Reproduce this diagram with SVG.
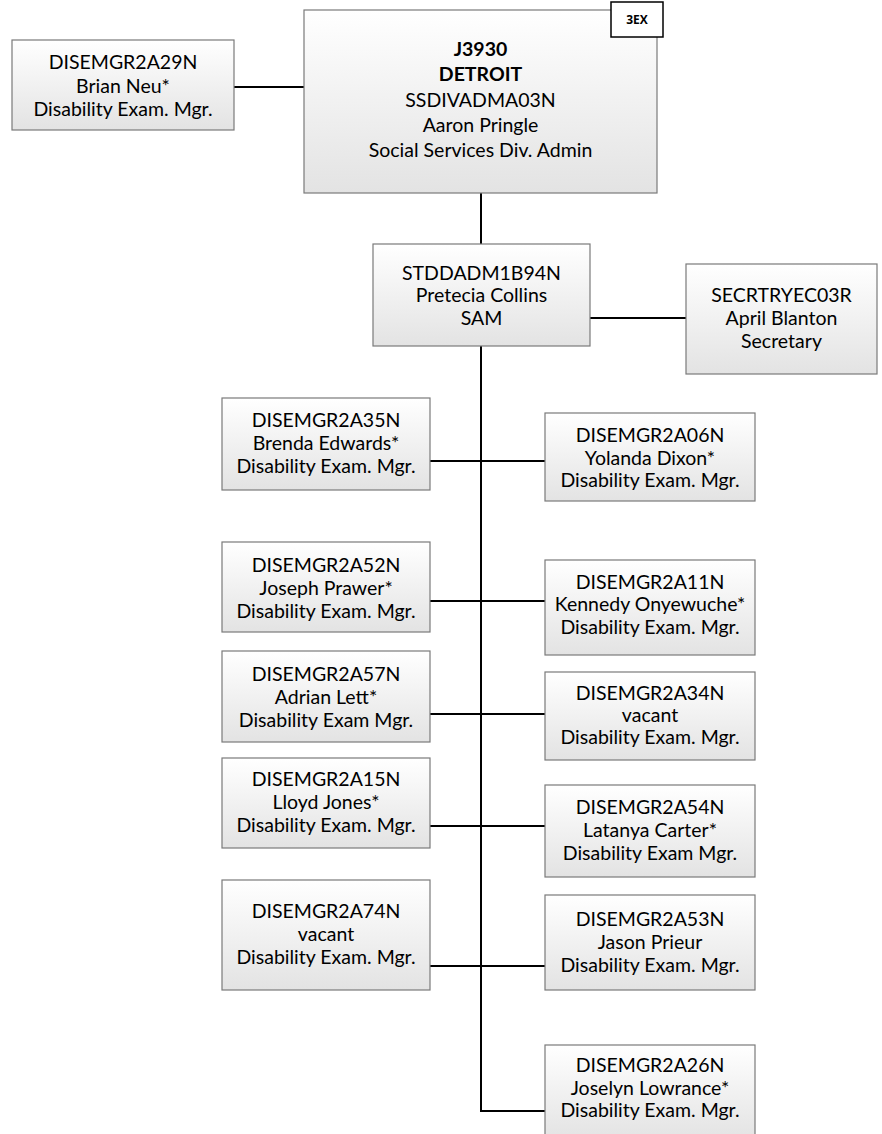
<svg xmlns="http://www.w3.org/2000/svg" width="882" height="1134" viewBox="0 0 882 1134">
<defs>
<linearGradient id="g" x1="0" y1="0" x2="0" y2="1">
<stop offset="0" stop-color="#ffffff"/>
<stop offset="1" stop-color="#e3e3e3"/>
</linearGradient>
<style>
.box{fill:url(#g);stroke:#7a7a7a;stroke-width:1.2}
.t{font-family:Lato,"Open Sans",sans-serif;font-size:19.5px;fill:#000;text-anchor:middle}
.b{font-weight:bold}
.c{stroke:#000;stroke-width:2;fill:none}
.tag{fill:#fff;stroke:#000;stroke-width:1.5}
.tt{font-family:"Open Sans",sans-serif;font-size:12px;font-weight:bold;text-anchor:middle}
</style>
</defs>
<rect width="882" height="1134" fill="#fff"/>
<g id="connectors">
<path class="c" d="M234 87H304"/>
<path class="c" d="M481 193V244"/>
<path class="c" d="M590 318H686"/>
<path class="c" d="M481 346V1111H545"/>
<path class="c" d="M430 461H545"/>
<path class="c" d="M430 601H545"/>
<path class="c" d="M430 714H545"/>
<path class="c" d="M430 826H545"/>
<path class="c" d="M430 966H545"/>
</g>
<g id="n-top">
<rect class="box" x="304" y="10" width="353" height="183"/>
<text class="t b" x="480.5" y="56">J3930</text>
<text class="t b" x="480.5" y="81">DETROIT</text>
<text class="t" x="480.5" y="107">SSDIVADMA03N</text>
<text class="t" x="480.5" y="132">Aaron Pringle</text>
<text class="t" x="480.5" y="157">Social Services Div. Admin</text>
</g>
<g id="n-3ex">
<rect class="tag" x="611" y="2" width="52" height="35"/>
<text class="tt" x="637" y="24">3EX</text>
</g>
<g id="n-a29">
<rect class="box" x="12" y="40" width="222" height="90"/>
<text class="t" x="123" y="69">DISEMGR2A29N</text>
<text class="t" x="123" y="93">Brian Neu*</text>
<text class="t" x="123" y="116">Disability Exam. Mgr.</text>
</g>
<g id="n-sam">
<rect class="box" x="373" y="244" width="217" height="102"/>
<text class="t" x="481.5" y="280">STDDADM1B94N</text>
<text class="t" x="481.5" y="302">Pretecia Collins</text>
<text class="t" x="481.5" y="325">SAM</text>
</g>
<g id="n-sec">
<rect class="box" x="686" y="264" width="191" height="110"/>
<text class="t" x="781.5" y="302">SECRTRYEC03R</text>
<text class="t" x="781.5" y="325">April Blanton</text>
<text class="t" x="781.5" y="348">Secretary</text>
</g>
<g id="n-a35">
<rect class="box" x="222" y="398" width="208" height="92"/>
<text class="t" x="326" y="427">DISEMGR2A35N</text>
<text class="t" x="326" y="450">Brenda Edwards*</text>
<text class="t" x="326" y="473">Disability Exam. Mgr.</text>
</g>
<g id="n-a06">
<rect class="box" x="545" y="413" width="210" height="88"/>
<text class="t" x="650" y="442">DISEMGR2A06N</text>
<text class="t" x="650" y="465">Yolanda Dixon*</text>
<text class="t" x="650" y="487">Disability Exam. Mgr.</text>
</g>
<g id="n-a52">
<rect class="box" x="222" y="542" width="208" height="90"/>
<text class="t" x="326" y="572">DISEMGR2A52N</text>
<text class="t" x="326" y="595">Joseph Prawer*</text>
<text class="t" x="326" y="618">Disability Exam. Mgr.</text>
</g>
<g id="n-a11">
<rect class="box" x="545" y="560" width="210" height="95"/>
<text class="t" x="650" y="589">DISEMGR2A11N</text>
<text class="t" x="650" y="611">Kennedy Onyewuche*</text>
<text class="t" x="650" y="634">Disability Exam. Mgr.</text>
</g>
<g id="n-a57">
<rect class="box" x="222" y="651" width="208" height="91"/>
<text class="t" x="326" y="681">DISEMGR2A57N</text>
<text class="t" x="326" y="704">Adrian Lett*</text>
<text class="t" x="326" y="727">Disability Exam Mgr.</text>
</g>
<g id="n-a34">
<rect class="box" x="545" y="672" width="210" height="88"/>
<text class="t" x="650" y="700">DISEMGR2A34N</text>
<text class="t" x="650" y="722">vacant</text>
<text class="t" x="650" y="744">Disability Exam. Mgr.</text>
</g>
<g id="n-a15">
<rect class="box" x="222" y="758" width="208" height="90"/>
<text class="t" x="326" y="786">DISEMGR2A15N</text>
<text class="t" x="326" y="809">Lloyd Jones*</text>
<text class="t" x="326" y="832">Disability Exam. Mgr.</text>
</g>
<g id="n-a54">
<rect class="box" x="545" y="785" width="210" height="92"/>
<text class="t" x="650" y="814">DISEMGR2A54N</text>
<text class="t" x="650" y="837">Latanya Carter*</text>
<text class="t" x="650" y="860">Disability Exam Mgr.</text>
</g>
<g id="n-a74">
<rect class="box" x="222" y="880" width="208" height="110"/>
<text class="t" x="326" y="918">DISEMGR2A74N</text>
<text class="t" x="326" y="941">vacant</text>
<text class="t" x="326" y="964">Disability Exam. Mgr.</text>
</g>
<g id="n-a53">
<rect class="box" x="545" y="895" width="210" height="95"/>
<text class="t" x="650" y="926">DISEMGR2A53N</text>
<text class="t" x="650" y="949">Jason Prieur</text>
<text class="t" x="650" y="972">Disability Exam. Mgr.</text>
</g>
<g id="n-a26">
<rect class="box" x="545" y="1045" width="210" height="95"/>
<text class="t" x="650" y="1072">DISEMGR2A26N</text>
<text class="t" x="650" y="1095">Joselyn Lowrance*</text>
<text class="t" x="650" y="1117">Disability Exam. Mgr.</text>
</g>
</svg>
